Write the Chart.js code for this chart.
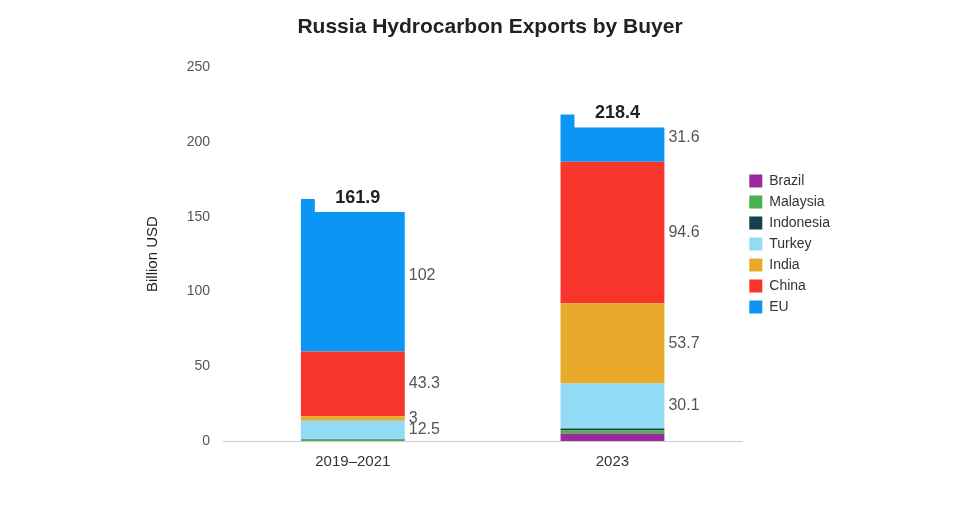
<!DOCTYPE html>
<html><head><meta charset="utf-8">
<script src="https://cdn.jsdelivr.net/npm/chart.js@4.4.0/dist/chart.umd.min.js"></script>
<style>html,body{margin:0;background:#fff}#w{width:970px;height:513px}</style>
</head><body><div id="w"><canvas id="c"></canvas></div>
<script>
const categories = ["2019\u20132021", "2023"];
const seriesNames = ["Brazil","Malaysia","Indonesia","Turkey","India","China","EU"];
const brazil = [0, 4.8];
const malaysia = [0.8, 2.4];
const indonesia = [0.3, 1.2];
const turkey = [12.5, 30.1];
const india = [3, 53.7];
const china = [43.3, 94.6];
const eu = [102, 31.6];
const totals = [161.9, 218.4];
const labeledSeries = ["Turkey","India","China","EU"];
const colors = ["#9b2a9f","#4caf50","#173f50","#92dbf4","#e9a92b","#f8352b","#0b96f5"];
const values = [brazil, malaysia, indonesia, turkey, india, china, eu];

const labelPlugin = {
  id: 'labels',
  afterDatasetsDraw(chart) {
    const ctx = chart.ctx;
    ctx.save();
    ctx.font = '16px "Liberation Sans", Arial, sans-serif';
    ctx.fillStyle = '#555';
    ctx.textAlign = 'left'; ctx.textBaseline = 'middle';
    chart.data.datasets.forEach((ds, i) => {
      if (!labeledSeries.includes(ds.label)) return;
      chart.getDatasetMeta(i).data.forEach((bar, j) => {
        const v = ds.data[j];
        const mid = (bar.y + bar.base) / 2;
        ctx.fillText(String(v), bar.x + bar.width / 2 + 4, mid);
      });
    });
    const meta = chart.getDatasetMeta(0);
    const ys = chart.scales.y;
    meta.data.forEach((bar, j) => {
      const top = ys.getPixelForValue(totals[j]);
      ctx.fillStyle = '#fff';
      ctx.fillRect(bar.x - 38, top - 14, 92, 27);
      ctx.fillStyle = '#222';
      ctx.font = 'bold 18px "Liberation Sans", Arial, sans-serif';
      ctx.textAlign = 'center';
      ctx.fillText(String(totals[j]), bar.x + 5, top - 1);
    });
    ctx.restore();
  }
};

new Chart(document.getElementById('c'), {
  type: 'bar',
  data: {
    labels: categories,
    datasets: seriesNames.map((n, i) => ({
      label: n, data: values[i], backgroundColor: colors[i],
      barPercentage: 0.4, categoryPercentage: 1, borderWidth: 0
    }))
  },
  options: {
    responsive: true, maintainAspectRatio: false, animation: false,
    layout: { padding: { left: 140, right: 130, top: 5, bottom: 30 } },
    plugins: {
      title: { display: true, text: 'Russia Hydrocarbon Exports by Buyer', color: '#222',
        font: { size: 21, weight: 'bold', family: '"Liberation Sans", Arial' }, padding: { top: 10, bottom: 27 } },
      legend: { position: 'right', align: 'center',
        labels: { boxWidth: 13, boxHeight: 13, padding: 7, color: '#333',
          font: { size: 14, family: '"Liberation Sans", Arial' } } },
      tooltip: { enabled: false }
    },
    scales: {
      x: { stacked: true, grid: { display: false, drawTicks: false }, border: { color: '#ccc' },
        ticks: { color: '#333', padding: 12, font: { size: 15, family: '"Liberation Sans", Arial' } } },
      y: { stacked: true, min: 0, max: 250,
        grid: { display: false, drawTicks: false }, border: { display: false },
        afterFit(s) { s.width = 83; },
        title: { display: true, text: 'Billion USD', color: '#222', font: { size: 15, family: '"Liberation Sans", Arial' } },
        ticks: { stepSize: 50, color: '#555', padding: 13, font: { size: 14, family: '"Liberation Sans", Arial' } } }
    }
  },
  plugins: [labelPlugin]
});
</script></body></html>
